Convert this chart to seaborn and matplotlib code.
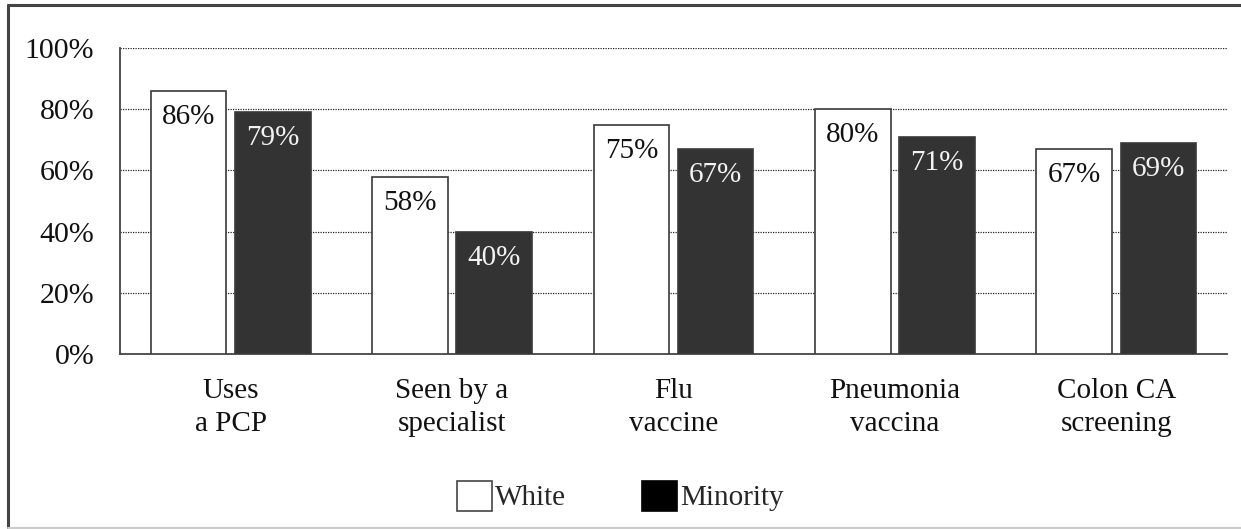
import matplotlib
matplotlib.use("Agg")
import matplotlib.pyplot as plt
from matplotlib.lines import Line2D
from matplotlib.patches import Patch
import seaborn as sns
import pandas as pd

categories = ["Uses\na PCP", "Seen by a\nspecialist", "Flu\nvaccine", "Pneumonia\nvaccina", "Colon CA\nscreening"]
groups = ["White", "Minority"]
white_pct = [86, 58, 75, 80, 67]
minority_pct = [79, 40, 67, 71, 69]
y_ticks = [0, 20, 40, 60, 80, 100]

df = pd.DataFrame({
    "category": categories * 2,
    "group": [groups[0]] * len(categories) + [groups[1]] * len(categories),
    "pct": white_pct + minority_pct,
})

sns.set_theme(style="white")
plt.rcParams["font.family"] = ["Liberation Serif", "DejaVu Serif"]

W, H, DPI = 1241, 529, 100
fig = plt.figure(figsize=(W / DPI, H / DPI), dpi=DPI)
ax = fig.add_axes([120 / W, 1 - 354 / H, (1227 - 120) / W, (354 - 48) / H])

palette = {"White": "#ffffff", "Minority": "#333333"}
sns.barplot(data=df, x="category", y="pct", hue="group", order=categories,
            hue_order=groups, palette=palette, width=0.76, gap=0.1,
            edgecolor="#3a3a3a", linewidth=1.2, ax=ax, legend=False, zorder=3)

ax.set_ylim(0, 100)
ax.set_xlim(-0.5, len(categories) - 0.5)
ax.set_yticks(y_ticks)
ax.set_yticklabels([f"{t}%" for t in y_ticks])
ax.set_xlabel("")
ax.set_ylabel("")
ax.tick_params(axis="y", length=0, pad=18.5, labelsize=21.5, labelcolor="#111111")
ax.tick_params(axis="x", length=0, pad=17, labelsize=21, labelcolor="#111111")
for lbl in ax.get_xticklabels():
    lbl.set_linespacing(1.35)

ax.yaxis.grid(True, linestyle=(0, (1, 1)), color="#222222", linewidth=0.9, zorder=0)
ax.set_axisbelow(True)
for side in ("top", "right"):
    ax.spines[side].set_visible(False)
for side in ("left", "bottom"):
    ax.spines[side].set_color("#444444")
    ax.spines[side].set_linewidth(1.3)

# value labels just inside the top of every bar
text_colors = ["#111111", "#f2f2f2"]
for container, tc in zip(ax.containers, text_colors):
    for bar in container:
        h = bar.get_height()
        ax.text(bar.get_x() + bar.get_width() / 2, h - 4.3, f"{h:.0f}%",
                ha="center", va="top", fontsize=21, color=tc, zorder=4)

handles = [Patch(facecolor="#ffffff", edgecolor="#444444", linewidth=1.2),
           Patch(facecolor="#000000", edgecolor="#000000", linewidth=1.2)]
fig.legend(handles, groups, loc="center", bbox_to_anchor=(0.5, 1 - 496 / H),
           ncol=2, frameon=False, fontsize=21, handlelength=1.2, handleheight=1.2,
           handletextpad=0.1, columnspacing=2.6)

# outer frame
fig.add_artist(Line2D([8 / W, 1], [1 - 5 / H, 1 - 5 / H], color="#444444", linewidth=2.2))
fig.add_artist(Line2D([8 / W, 8 / W], [1 - 5 / H, 1 - 528 / H], color="#444444", linewidth=2.2))
fig.add_artist(Line2D([8 / W, 1], [1 - 527.5 / H, 1 - 527.5 / H], color="#cccccc", linewidth=1.5))

fig.savefig("out.png", dpi=DPI)
